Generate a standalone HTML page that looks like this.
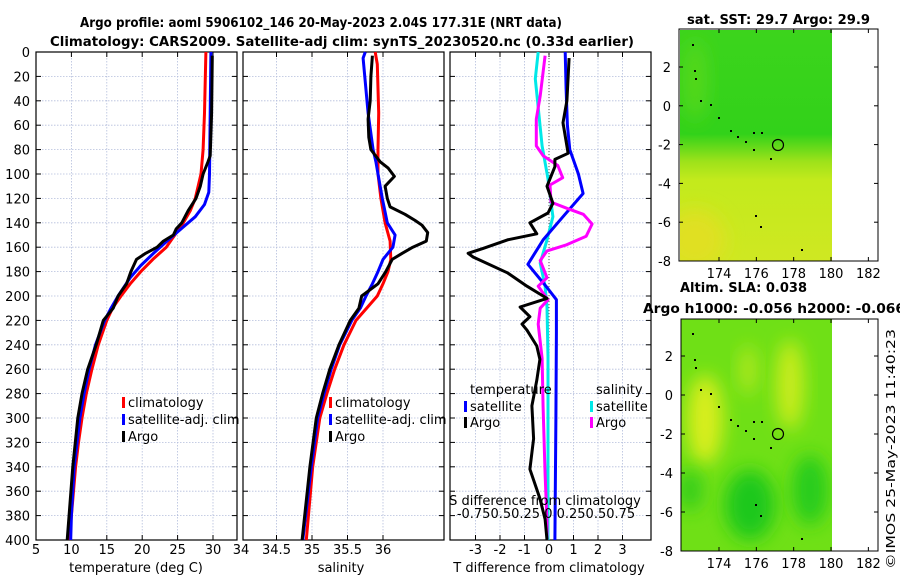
<!DOCTYPE html>
<html><head><meta charset="utf-8"><style>
body{margin:0;background:#fff}
svg{display:block;font-family:"DejaVu Sans","Liberation Sans",sans-serif}
</style></head><body>
<svg id="c" width="900" height="580" viewBox="0 0 900 580" xmlns="http://www.w3.org/2000/svg">
<defs>
<filter id="bl" x="-50%" y="-50%" width="200%" height="200%"><feGaussianBlur stdDeviation="9"/></filter>
<linearGradient id="sstg" x1="0" y1="0" x2="0" y2="1">
<stop offset="0" stop-color="#3cd41c"/><stop offset="0.45" stop-color="#32d21a"/><stop offset="0.57" stop-color="#9ee21a"/><stop offset="0.65" stop-color="#c3ea1c"/><stop offset="1" stop-color="#cfe822"/></linearGradient>
<clipPath id="m1c"><rect x="680" y="30" width="152" height="231"/></clipPath>
<clipPath id="m2c"><rect x="681" y="319" width="151" height="232"/></clipPath>
</defs>
<text x="80" y="27" font-size="13" font-weight="bold" textLength="482" lengthAdjust="spacingAndGlyphs">Argo profile: aoml 5906102_146 20-May-2023 2.04S 177.31E (NRT data)</text>
<text x="50" y="46" font-size="13" font-weight="bold" textLength="584" lengthAdjust="spacingAndGlyphs">Climatology: CARS2009. Satellite-adj clim: synTS_20230520.nc (0.33d earlier)</text>
<g id="panels"></g>
<g id="maps">
<text x="687" y="24" font-size="13" font-weight="bold" textLength="183" lengthAdjust="spacingAndGlyphs">sat. SST: 29.7 Argo: 29.9</text>
<g clip-path="url(#m1c)">
<rect x="680" y="30" width="152" height="231" fill="url(#sstg)"/>
<ellipse cx="695" cy="240" rx="30" ry="30" fill="#e0e020" filter="url(#bl)"/>
<ellipse cx="695" cy="80" rx="12" ry="40" fill="#55d81c" filter="url(#bl)"/>
</g>
<rect x="679" y="29" width="199" height="232" fill="none" stroke="#000"/>
<circle cx="778" cy="145" r="5.5" fill="none" stroke="#000" stroke-width="1.2"/>
<text x="680" y="292" font-size="13" font-weight="bold" textLength="127" lengthAdjust="spacingAndGlyphs">Altim. SLA: 0.038</text>
<text x="643" y="313" font-size="13" font-weight="bold" textLength="262" lengthAdjust="spacingAndGlyphs">Argo h1000: -0.056 h2000: -0.066</text>
<g clip-path="url(#m2c)">
<rect x="681" y="319" width="151" height="232" fill="#6fe016"/>
<ellipse cx="705" cy="420" rx="18" ry="45" fill="#d8ee1c" filter="url(#bl)"/>
<ellipse cx="790" cy="385" rx="14" ry="45" fill="#c9ec1c" filter="url(#bl)"/>
<ellipse cx="748" cy="370" rx="9" ry="25" fill="#b0e81c" filter="url(#bl)"/>
<ellipse cx="750" cy="505" rx="25" ry="35" fill="#1ec81a" filter="url(#bl)"/>
<ellipse cx="810" cy="490" rx="18" ry="35" fill="#28cc1a" filter="url(#bl)"/>
<ellipse cx="690" cy="490" rx="12" ry="20" fill="#30cc1a" filter="url(#bl)"/>
</g>
<rect x="681" y="319" width="197" height="232" fill="none" stroke="#000"/>
<circle cx="778" cy="434" r="5.5" fill="none" stroke="#000" stroke-width="1.2"/>
<text transform="translate(895,569) rotate(-90)" font-size="12" textLength="240" lengthAdjust="spacingAndGlyphs">©IMOS 25-May-2023 11:40:23</text>
</g>
</svg>
<script>
// depths (m)
const tDepR=[0,50,80,100,120,130,140,150,160,170,180,190,200,210,220,240,260,280,300,320,340,360,380,400];
const tClim=[29.0,28.8,28.6,28.3,27.5,26.8,25.8,24.6,23.4,21.5,19.8,18.3,17.0,15.8,15.0,13.8,12.9,12.1,11.5,11.0,10.6,10.3,10.0,9.7];
const tDepB=[0,50,100,115,125,135,145,155,165,175,185,200,210,220,240,260,280,300,320,340,360,380,400];
const tSat=[29.7,29.6,29.5,29.4,28.8,27.5,25.5,23.5,21.6,19.8,18.3,16.6,15.6,14.7,13.4,12.5,11.8,11.2,10.8,10.4,10.2,10.0,9.9];
const tDepA=[3,50,85,90,100,110,120,130,140,145,150,155,160,165,170,180,190,200,210,220,240,260,280,300,340,400];
const tArgo=[29.9,29.8,29.6,29.3,28.6,28.2,27.6,26.5,25.6,24.8,24.4,23.0,22.1,20.5,19.2,18.4,17.8,16.6,15.9,14.5,13.5,12.3,11.5,10.9,10.2,9.4];
const sDepR=[0,10,50,80,100,120,140,155,170,180,190,200,220,240,260,280,300,340,400];
const sClim=[35.89,35.92,35.94,35.93,35.93,35.97,36.03,36.10,36.11,36.07,36.00,35.92,35.62,35.45,35.32,35.21,35.11,35.01,34.92];
const sDepB=[0,5,50,80,90,100,120,140,150,160,170,180,190,200,210,220,240,260,280,300,340,400];
const sSat=[35.75,35.72,35.79,35.86,35.90,35.93,35.99,36.06,36.17,36.14,36.00,35.93,35.85,35.76,35.68,35.56,35.39,35.27,35.17,35.08,34.99,34.87];
const sDepA=[3,20,40,55,70,80,90,95,102,110,120,127,133,138,142,148,155,160,165,170,180,190,200,210,220,240,260,280,300,340,400];
const sArgo=[35.85,35.83,35.82,35.79,35.80,35.83,35.96,36.07,36.16,36.03,36.06,36.10,36.31,36.45,36.55,36.63,36.61,36.42,36.27,36.13,36.04,35.93,35.70,35.66,35.54,35.38,35.25,35.15,35.06,34.97,34.86];
const dDepTS=[0,30,60,80,100,116,135,154,174,193,203,230,300,400];
const dTSat=[0.66,0.70,0.75,0.85,1.2,1.39,0.57,-0.24,-0.86,-0.08,0.30,0.30,0.28,0.24];
const dDepTA=[5,40,58,83,88,94,110,124,132,140,149,154,161,165,168,181,192,202,209,217,223,228,241,252,269,290,317,342,366,383,400];
const dTArgo=[0.82,0.73,0.57,0.78,0.24,0.24,-0.08,0.16,-0.04,-0.78,-0.5,-1.7,-2.69,-3.3,-3.1,-1.7,-0.9,-0.08,-1.18,-0.78,-1.1,-0.9,-0.5,-0.37,-0.5,-0.7,-0.63,-0.78,-0.37,-0.16,-0.08];
const dDepSS=[0,22,77,104,135,154,173,192,209,250,400];
const dSSat=[-0.11,-0.14,-0.07,-0.01,0.04,-0.02,-0.09,-0.04,-0.02,-0.01,-0.01];
const dDepSA=[3,36,55,77,85,93,103,109,123,128,133,141,151,158,163,171,185,192,203,210,223,251,291,346,385,400];
const dSArgo=[-0.04,-0.09,-0.13,-0.13,-0.06,0.09,0.14,0.01,0.02,0.18,0.35,0.44,0.38,0.18,-0.02,-0.09,-0.02,-0.11,-0.01,-0.09,-0.11,-0.07,-0.06,-0.04,-0.02,-0.02];
const depthTicks=[0,20,40,60,80,100,120,140,160,180,200,220,240,260,280,300,320,340,360,380,400];
const tTicks=[5,10,15,20,25,30];
const sTicks=[34,34.5,35,35.5,36];
const dTicks=[-3,-2,-1,0,1,2,3];

const NS='http://www.w3.org/2000/svg';
const Y0=52,Y1=540;
const yD=d=>Y0+d*(Y1-Y0)/400;
const xT=v=>36+(v-5)*7.08;
const xS=v=>241+(v-34)*71;
const xDT=v=>549+v*24.5;
const xDS=v=>549+v*98;
const G=document.getElementById('panels');
function mk(tag,at,parent){const e=document.createElementNS(NS,tag);for(const k in at)e.setAttribute(k,at[k]);(parent||G).appendChild(e);return e;}
function txt(x,y,s,anchor,size,name){const t=mk('text',{x:x,y:y,'text-anchor':anchor||'middle','font-size':size||13});t.textContent=s;


return t;}
function panel(x0,x1,ticks,xf,labels,name){
  const g=mk('g',{});
  
  
  depthTicks.forEach(d=>{mk('line',{x1:x0,x2:x1,y1:yD(d),y2:yD(d),stroke:'#b4bedc','stroke-width':0.8,'stroke-dasharray':'1.5,1.5'},g);
    mk('line',{x1:x0,x2:x0+5,y1:yD(d),y2:yD(d),stroke:'#000'},g);mk('line',{x1:x1-5,x2:x1,y1:yD(d),y2:yD(d),stroke:'#000'},g);});
  ticks.forEach((v,i)=>{const x=xf(v);mk('line',{x1:x,x2:x,y1:Y0,y2:Y1,stroke:'#b4bedc','stroke-width':0.8,'stroke-dasharray':'1.5,1.5'},g);
    mk('line',{x1:x,x2:x,y1:Y1-5,y2:Y1,stroke:'#000'},g);mk('line',{x1:x,x2:x,y1:Y0,y2:Y0+5,stroke:'#000'},g);
    if(labels){const t=txt(x,554,labels[i],'middle',13,'x-tick-label');g.appendChild(t);}});
  const r=mk('rect',{x:x0,y:Y0,width:x1-x0,height:Y1-Y0,fill:'none',stroke:'#000','stroke-width':1.2},g);
  
  
  return g;}
function line(dep,val,xf,col,name,w){
  const p=dep.map((d,i)=>(i?'L':'M')+xf(val[i]).toFixed(1)+','+yD(d).toFixed(1)).join('');
  const e=mk('path',{d:p,fill:'none',stroke:col,'stroke-width':w||3,'stroke-linejoin':'round'});
  
  }
panel(36,237,tTicks,xT,tTicks.map(String),'temperature-panel');
panel(243,444,sTicks.slice(1),xS,sTicks.slice(1).map(String),'salinity-panel');
panel(450,651,dTicks,xDT,dTicks.map(String),'difference-panel');
depthTicks.forEach(d=>txt(30,yD(d)+5,String(d),'end',13,'y-tick-label'));
txt(241,554,'34','middle',13,'x-tick-label');
mk('line',{x1:549,x2:549,y1:Y0,y2:Y1,stroke:'#555','stroke-width':1,'stroke-dasharray':'1,2'});
line(tDepR,tClim,xT,'#ff0000','temp-climatology-line');
line(tDepB,tSat,xT,'#0000ff','temp-satellite-line');
line(tDepA,tArgo,xT,'#000000','temp-argo-line');
line(sDepR,sClim,xS,'#ff0000','sal-climatology-line');
line(sDepB,sSat,xS,'#0000ff','sal-satellite-line');
line(sDepA,sArgo,xS,'#000000','sal-argo-line');
line(dDepSS,dSSat,xDS,'#00e8e8','sdiff-satellite-line');
line(dDepTS,dTSat,xDT,'#0000ff','tdiff-satellite-line');
line(dDepSA,dSArgo,xDS,'#ff00ff','sdiff-argo-line');
line(dDepTA,dTArgo,xDT,'#000000','tdiff-argo-line');
function leg(x,y,col,label,name){const r=mk('rect',{x:x,y:y-10,width:3,height:11,fill:col});


txt(x+6,y,label,'start',13,name);}
leg(122,407,'#ff0000','climatology','legend-temp-climatology');
leg(122,424,'#0000ff','satellite-adj. clim','legend-temp-satellite');
leg(122,441,'#000000','Argo','legend-temp-argo');
leg(329,407,'#ff0000','climatology','legend-sal-climatology');
leg(329,424,'#0000ff','satellite-adj. clim','legend-sal-satellite');
leg(329,441,'#000000','Argo','legend-sal-argo');
txt(470,394,'temperature','start',13,'legend-temp-header');
leg(464,411,'#0000ff','satellite','legend-tdiff-satellite');
leg(464,427,'#000000','Argo','legend-tdiff-argo');
txt(596,394,'salinity','start',13,'legend-sal-header');
leg(590,411,'#00e8e8','satellite','legend-sdiff-satellite');
leg(590,427,'#ff00ff','Argo','legend-sdiff-argo');
txt(545,505,'S difference from climatology','middle',13,'s-diff-axis-title');
txt(546,518,'-0.750.50.25 0 0.250.50.75','middle',13,'s-diff-tick-labels');
txt(136,572,'temperature (deg C)','middle',13,'temperature-axis-title');
txt(341,572,'salinity','middle',13,'salinity-axis-title');
txt(549,572,'T difference from climatology','middle',13,'t-diff-axis-title');
// map ticks
const lonTicks=[174,176,178,180,182];
const latTicks=[2,0,-2,-4,-6,-8];
const M=document.getElementById('maps');
function mapAxes(x0,x1,y0,y1,latY2,latYm8){
  const lx=v=>719+(v-174)*18.67, ly=v=>latY2+(2-v)*(latYm8-latY2)/10;
  lonTicks.forEach(v=>{mk('line',{x1:lx(v),x2:lx(v),y1:y1-4,y2:y1,stroke:'#000'},M);mk('line',{x1:lx(v),x2:lx(v),y1:y0,y2:y0+4,stroke:'#000'},M);
    const t=txt(lx(v),y1+17,String(v),'middle',13,'lon-tick-label');M.appendChild(t);});
  latTicks.forEach(v=>{mk('line',{x1:x0,x2:x0+4,y1:ly(v),y2:ly(v),stroke:'#000'},M);mk('line',{x1:x1-4,x2:x1,y1:ly(v),y2:ly(v),stroke:'#000'},M);
    const t=txt(x0-8,ly(v)+5,String(v),'end',13,'lat-tick-label');M.appendChild(t);});}
mapAxes(679,878,29,261,67,261);
mapAxes(681,878,319,551,356,551);
// coastline specks
const isl=[[692,44],[694,70],[695,78],[700,100],[710,104],[718,117],[730,130],[737,136],[745,141],[753,132],[761,132],[753,149],[770,158],[755,215],[760,226],[801,249]];
[0,289].forEach(off=>isl.forEach(p=>{mk('rect',{x:p[0],y:p[1]+off,width:2,height:2,fill:'#000'},M);}));
</script>
</body></html>
